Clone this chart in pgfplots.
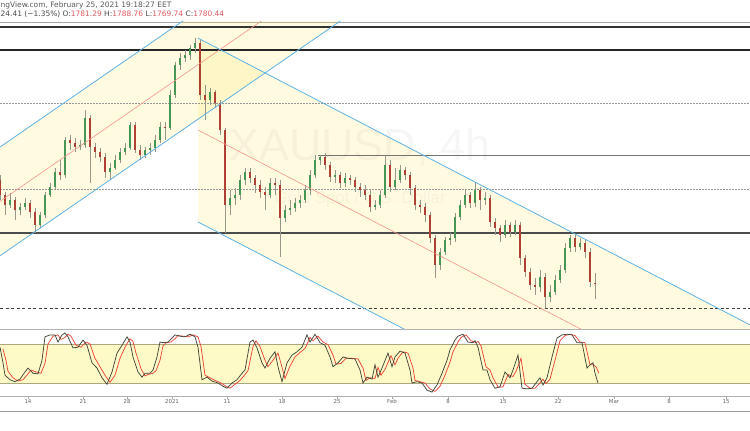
\documentclass[border=0pt]{standalone}
\usepackage{pgfplots}
\usepackage{pgfplotstable}
\pgfplotsset{compat=1.18}
\usepackage{fontspec}
\setmainfont{DejaVu Sans}
\newfontfamily\wmfont{Liberation Sans}
\definecolor{upc}{RGB}{70,150,85}
\definecolor{dnc}{RGB}{175,65,52}
\definecolor{wickc}{RGB}{150,150,138}
\definecolor{chanfill}{RGB}{255,232,100}
\definecolor{chanblue}{RGB}{95,178,228}
\definecolor{chanmid}{RGB}{245,150,140}
\definecolor{bandc}{RGB}{254,250,200}
\definecolor{bandline}{RGB}{172,168,125}
\definecolor{kcol}{RGB}{70,70,55}
\definecolor{dcol}{RGB}{235,70,55}
\definecolor{hdrred}{RGB}{225,90,95}

\pgfplotstableread{
x o h l c
0 1857.1 1860.7 1842.4 1846.1
5 1846.1 1848.3 1831.4 1838.7
10 1838.7 1847.5 1836.5 1842.4
15 1842.4 1844.6 1827.7 1835.1
20 1835.1 1840.2 1831.4 1837.3
25 1837.3 1843.9 1835.1 1840.2
30 1840.2 1842.4 1829.2 1833.6
35 1833.6 1836.5 1818.2 1824.1
40 1824.1 1833.6 1821.9 1831.4
45 1831.4 1848.3 1829.2 1846.1
50 1846.1 1854.9 1844.6 1851.9
55 1851.9 1865.9 1849.7 1862.9
60 1862.9 1871.7 1857.1 1860.7
65 1860.7 1888.6 1858.5 1886.4
70 1886.4 1890.0 1879.1 1884.2
75 1884.2 1887.8 1877.6 1881.2
80 1881.2 1886.4 1879.1 1882.7
85 1882.7 1908.4 1880.5 1902.5
90 1902.5 1904.7 1854.9 1881.2
95 1881.2 1884.2 1873.2 1877.6
100 1877.6 1880.5 1870.3 1873.9
105 1873.9 1876.9 1858.5 1862.9
110 1862.9 1869.5 1857.1 1865.9
115 1865.9 1875.4 1864.4 1871.7
120 1871.7 1880.5 1869.5 1877.6
125 1877.6 1884.2 1875.4 1880.5
130 1880.5 1899.6 1879.1 1897.4
135 1897.4 1899.6 1876.9 1879.1
140 1879.1 1882.7 1871.7 1875.4
145 1875.4 1881.2 1873.2 1879.1
150 1879.1 1884.2 1875.4 1880.5
155 1880.5 1890.0 1877.6 1886.4
160 1886.4 1899.6 1884.2 1895.9
165 1895.9 1899.6 1886.4 1895.2
170 1895.2 1923.0 1893.7 1919.4
175 1919.4 1943.6 1917.2 1941.4
180 1941.4 1950.2 1937.7 1946.5
185 1946.5 1952.4 1943.6 1948.7
190 1948.7 1956.0 1945.0 1953.8
195 1953.8 1961.1 1950.2 1957.5
200 1957.5 1959.7 1915.7 1919.4
205 1919.4 1926.7 1901.0 1915.7
210 1915.7 1924.5 1912.0 1921.6
215 1921.6 1923.0 1909.8 1913.5
220 1913.5 1915.7 1890.0 1893.7
225 1893.7 1895.2 1818.2 1838.7
230 1838.7 1849.7 1831.4 1843.9
235 1843.9 1851.2 1838.7 1846.1
240 1846.1 1860.7 1842.4 1857.1
245 1857.1 1865.9 1853.4 1862.9
250 1862.9 1865.9 1854.9 1858.5
255 1858.5 1860.7 1847.5 1853.4
260 1853.4 1857.1 1843.9 1848.3
265 1848.3 1851.9 1835.1 1846.1
270 1846.1 1858.5 1843.9 1854.9
275 1854.9 1858.5 1846.1 1853.4
280 1853.4 1857.1 1800.6 1829.2
285 1829.2 1838.7 1826.3 1835.1
290 1835.1 1842.4 1831.4 1836.5
295 1836.5 1843.9 1833.6 1840.2
300 1840.2 1846.1 1836.5 1842.4
305 1842.4 1853.4 1840.2 1849.7
310 1849.7 1864.4 1846.1 1860.7
315 1860.7 1875.4 1858.5 1871.7
320 1871.7 1875.4 1868.1 1873.9
325 1873.9 1876.9 1864.4 1868.1
330 1868.1 1870.3 1855.6 1859.3
335 1859.3 1864.4 1854.9 1860.7
340 1860.7 1862.9 1851.2 1854.9
345 1854.9 1862.2 1851.9 1858.5
350 1858.5 1860.7 1853.4 1857.1
355 1857.1 1859.3 1848.3 1851.9
360 1851.9 1854.9 1844.6 1849.7
365 1849.7 1853.4 1842.4 1846.1
370 1846.1 1849.7 1833.6 1837.3
375 1837.3 1842.4 1835.1 1838.7
380 1838.7 1849.7 1836.5 1846.1
385 1846.1 1875.4 1843.9 1868.1
390 1868.1 1871.7 1848.3 1851.9
395 1851.9 1865.9 1849.7 1857.1
400 1857.1 1868.1 1854.9 1864.4
405 1864.4 1866.6 1857.1 1860.7
410 1860.7 1862.9 1846.1 1851.2
415 1851.2 1853.4 1835.1 1838.7
420 1838.7 1842.4 1832.9 1837.3
425 1837.3 1840.2 1826.3 1831.4
430 1831.4 1833.6 1810.9 1814.5
435 1814.5 1816.7 1785.2 1794.8
440 1794.8 1807.2 1791.1 1804.3
445 1804.3 1815.3 1802.1 1813.1
450 1813.1 1818.2 1809.4 1814.5
455 1814.5 1832.9 1811.6 1829.9
460 1829.9 1842.4 1827.7 1838.7
465 1838.7 1849.7 1836.5 1846.1
470 1846.1 1848.3 1836.5 1840.2
475 1840.2 1855.6 1837.3 1849.7
480 1849.7 1851.9 1835.1 1842.4
485 1842.4 1848.3 1838.7 1843.9
490 1843.9 1846.1 1822.6 1826.3
495 1826.3 1829.2 1816.7 1821.9
500 1821.9 1824.1 1811.6 1816.7
505 1816.7 1827.7 1814.5 1824.1
510 1824.1 1826.3 1815.3 1818.9
515 1818.9 1827.7 1816.7 1824.1
520 1824.1 1826.3 1794.8 1799.9
525 1799.9 1802.1 1786.0 1789.6
530 1789.6 1792.6 1776.4 1780.1
535 1780.1 1785.2 1772.8 1778.6
540 1778.6 1791.1 1775.0 1786.0
545 1786.0 1788.9 1763.2 1771.3
550 1771.3 1780.1 1767.6 1775.0
555 1775.0 1787.4 1772.8 1783.8
560 1783.8 1794.8 1781.6 1791.1
565 1791.1 1810.9 1788.9 1807.2
570 1807.2 1816.7 1804.3 1814.5
575 1814.5 1816.7 1804.3 1807.9
580 1807.9 1814.5 1805.8 1810.9
585 1810.9 1813.1 1799.9 1804.3
590 1804.3 1807.2 1778.6 1782.3
595 1781.29 1788.76 1769.74 1780.44
}\candles

\pgfplotstableread{
x k
0 75
3 51
5 32
10 25
15 22
20 26
25 37
28 43
33 35
38 34
42 55
45 91
50 94
55 94
58 83
62 94
65 97
68 91
73 74
78 75
83 86
87 78
92 51
97 43
102 28
107 18
112 37
117 66
122 78
127 91
130 83
133 60
138 37
142 29
145 35
150 35
153 40
157 60
160 83
163 82
168 83
172 89
175 94
180 92
185 91
190 95
195 91
198 75
202 25
207 29
212 23
218 20
223 15
227 12
232 20
237 25
242 35
245 40
250 83
253 86
257 74
262 51
265 43
270 58
275 68
278 45
282 22
287 51
292 63
297 68
302 75
307 94
310 83
315 95
320 82
325 78
330 60
333 45
338 51
343 60
348 58
355 57
360 40
363 20
367 29
372 26
375 48
378 29
382 43
388 66
392 45
395 60
400 69
405 66
410 40
412 20
417 22
422 20
427 9
432 6
437 17
442 35
447 55
450 71
455 86
458 92
463 95
468 83
473 82
475 85
478 75
483 40
487 40
490 25
495 12
500 14
505 37
510 28
513 40
518 63
522 12
527 11
532 12
537 22
540 28
543 17
547 28
552 60
557 89
562 94
567 95
572 94
577 82
582 82
587 43
590 48
593 51
595 35
598 20
}\stochk

\pgfplotstableread{
x d
3 72
6 55
8 38
13 28
18 23
23 25
28 34
31 40
36 37
41 35
45 50
48 80
53 92
58 94
61 87
65 90
68 95
71 92
76 78
81 75
86 83
90 80
95 58
100 45
105 32
110 21
115 32
120 58
125 75
130 88
133 84
136 66
141 42
145 31
148 33
153 35
156 39
160 55
163 77
166 82
171 83
175 88
178 93
183 92
188 91
193 94
198 91
201 76
205 32
210 28
215 24
221 20
226 15
230 12
235 18
240 24
245 33
248 39
253 76
256 85
260 76
265 55
268 45
273 55
278 66
281 50
285 27
290 46
295 60
300 67
305 73
310 90
313 85
318 92
323 83
328 79
333 63
336 49
341 50
346 58
351 58
358 57
363 43
366 24
370 28
375 27
378 44
381 32
385 41
391 62
395 48
398 58
403 68
408 66
413 43
415 24
420 22
425 20
430 11
435 7
440 15
445 32
450 52
453 68
458 83
461 90
466 94
471 85
476 82
478 84
481 77
486 45
490 40
493 28
498 14
503 14
508 33
513 30
516 38
521 58
525 18
530 12
535 12
540 20
543 26
546 19
550 26
555 55
560 85
565 93
570 95
575 93
580 83
585 82
590 48
593 48
596 45
599 35
}\stochd

\begin{document}
\begin{tikzpicture}[x=1bp,y=1bp]
\useasboundingbox (0,0) rectangle (750,430);
\clip (0,0) rectangle (750,430);
\fill[white] (0,0) rectangle (750,430);

% header
\node[anchor=base west, inner sep=0, font=\fontsize{7.5}{8}\selectfont, text=black!65] at (0.5,422.5) {ngView.com, February 25, 2021 19:18:27 EET};
\node[anchor=base west, inner sep=0, font=\fontsize{7.5}{8}\selectfont, text=black!70] at (0.5,413)
  {24.41 (−1.35\%) O:\textcolor{hdrred}{1781.29} H:\textcolor{hdrred}{1788.76} L:\textcolor{hdrred}{1769.74} C:\textcolor{hdrred}{1780.44}};

% pane separators
\draw[black!35, line width=0.9bp] (0,407.5) -- (750,407.5);

% main price pane
\begin{axis}[at={(0bp,101bp)}, anchor=south west, scale only axis,
  width=750bp, height=307bp,
  xmin=0, xmax=750, ymin=1747.8, ymax=1972.9,
  axis lines=none, xtick=\empty, ytick=\empty, clip=true]

  % channel fills
  \addplot[draw=none, fill=chanfill, fill opacity=0.2, forget plot]
    coordinates {(0,1881.2) (190,1977.3) (350,1978.5) (0,1801.5)} -- cycle;
  \addplot[draw=none, fill=chanfill, fill opacity=0.2, forget plot]
    coordinates {(198,1961.1) (750,1750.8) (750,1615.9) (198,1826.3)} -- cycle;

  % watermark
  \node[text=black, opacity=0.035, font=\wmfont\fontsize{45}{45}\selectfont] at (axis cs:360,1881) {XAUUSD, 4h};
  \node[text=black, opacity=0.035, font=\wmfont\fontsize{17}{17}\selectfont] at (axis cs:360,1843) {Gold Spot / U.S. Dollar};

  % horizontal levels
  \addplot[black!80, line width=1.1bp, forget plot] coordinates {(0,1969.2) (750,1969.2)};
  \addplot[black!85, line width=1.1bp, forget plot] coordinates {(0,1952.4) (750,1952.4)};
  \addplot[black!70, line width=1.1bp, forget plot] coordinates {(0,1818.2) (750,1818.2)};
  \addplot[black!55, line width=0.9bp, forget plot] coordinates {(318,1874.7) (750,1874.7)};
  \addplot[black!40, line width=0.6bp, dash pattern=on 1.5bp off 1.5bp, forget plot] coordinates {(0,1913.5) (750,1913.5)};
  \addplot[black!40, line width=0.6bp, dash pattern=on 1.5bp off 1.5bp, forget plot] coordinates {(0,1850.5) (750,1850.5)};
  \addplot[black!75, line width=0.7bp, dash pattern=on 3bp off 2.5bp, forget plot] coordinates {(0,1763.2) (750,1763.2)};

  % candles: wicks
  \addplot[only marks, mark=*, mark size=0pt, mark options={draw=none, fill=none}, forget plot,
    error bars/.cd, y dir=both, y explicit, error mark=none,
    error bar style={line width=0.7bp, color=wickc}]
    table[x=x, y=o, y error plus expr=\thisrow{h}-\thisrow{o}, y error minus expr=\thisrow{o}-\thisrow{l}] {\candles};
  % up bodies
  \addplot[only marks, mark=*, mark size=0pt, mark options={draw=none, fill=none}, forget plot,
    restrict expr to domain={\thisrow{c}-\thisrow{o}}{0:1000},
    error bars/.cd, y dir=plus, y explicit, error mark=none,
    error bar style={line width=2.6bp, color=upc}]
    table[x=x, y=o, y error plus expr=\thisrow{c}-\thisrow{o}] {\candles};
  % down bodies
  \addplot[only marks, mark=*, mark size=0pt, mark options={draw=none, fill=none}, forget plot,
    restrict expr to domain={\thisrow{o}-\thisrow{c}}{0.001:1000},
    error bars/.cd, y dir=plus, y explicit, error mark=none,
    error bar style={line width=2.6bp, color=dnc}]
    table[x=x, y=c, y error plus expr=\thisrow{o}-\thisrow{c}] {\candles};

  % ascending channel
  \addplot[chanblue, line width=0.8bp, forget plot] coordinates {(0,1881.2) (190,1977.3)};
  \addplot[chanblue, line width=0.8bp, forget plot] coordinates {(0,1801.5) (350,1978.5)};
  \addplot[chanmid, line width=0.6bp, forget plot] coordinates {(0,1841.4) (270,1978.0)};
  % descending channel
  \addplot[chanblue, line width=0.8bp, forget plot] coordinates {(198,1961.1) (750,1750.8)};
  \addplot[chanblue, line width=0.8bp, forget plot] coordinates {(198,1826.3) (420,1741.7)};
  \addplot[chanmid, line width=0.6bp, forget plot] coordinates {(198,1893.7) (600,1740.4)};
\end{axis}

% stochastic pane
\begin{axis}[at={(0bp,34bp)}, anchor=south west, scale only axis,
  width=750bp, height=66bp,
  xmin=0, xmax=750, ymin=0, ymax=101.5,
  axis y line=none, axis x line=bottom,
  axis line style={-, draw=black!30, line width=0.8bp},
  xtick={28,83,127,172,227,282,337,392,448,503,558,614,669,726},
  xticklabels={14,21,28,2021,11,18,25,Feb,8,15,22,Mar,8,15},
  xticklabel style={font=\fontsize{5.5}{6}\selectfont, text=black!60, inner sep=1bp},
  tick align=outside, major tick length=2.5bp,
  xtick style={draw=black!35, line width=0.5bp},
  ytick=\empty, clip=true]
  \addplot[draw=none, fill=bandc, forget plot] coordinates {(0,20) (750,20) (750,80) (0,80)} -- cycle;
  \addplot[bandline, line width=0.7bp, forget plot] coordinates {(0,80) (750,80)};
  \addplot[bandline, line width=0.7bp, forget plot] coordinates {(0,20) (750,20)};
  \addplot[dcol, line width=0.75bp, forget plot] table[x=x, y=d] {\stochd};
  \addplot[kcol, line width=0.75bp, forget plot] table[x=x, y=k] {\stochk};
\end{axis}
\draw[black!30, line width=0.8bp] (0,100.5) -- (750,100.5);
\draw[black!40, line width=1bp] (0,19) -- (750,19);
\end{tikzpicture}
\end{document}
